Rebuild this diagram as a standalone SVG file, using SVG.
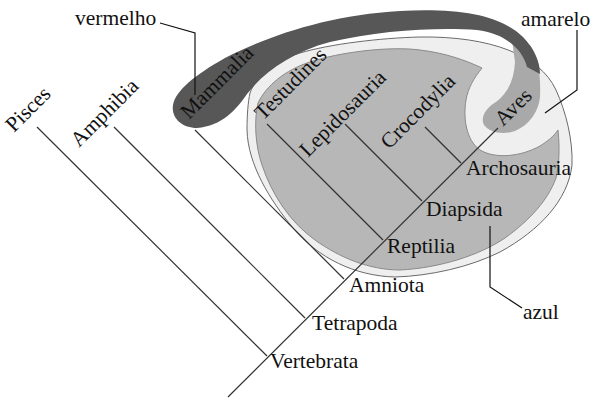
<svg xmlns="http://www.w3.org/2000/svg" width="593" height="398" viewBox="0 0 593 398">
<style>
text{font-family:"Liberation Serif","Times New Roman",serif;font-size:21.5px;fill:#111}
.br{stroke:#333;stroke-width:1.2;fill:none}
.ld{stroke:#111;stroke-width:1.2;fill:none}
</style>
<rect width="593" height="398" fill="#fff"/>
<g id="regions">
<path id="azul-region" d="M250,93 C256,76 272,62 300,53 C330,44 380,38 420,37 C490,36 540,55 556,90 C566,112 573,140 572,165 C568,200 540,230 500,252 C470,267 430,276 395,277 C355,276 318,258 293,228 C270,200 248,165 247,130 C247,115 248,102 250,93 Z" fill="#efefef" stroke="#6a6a6a" stroke-width="1"/>
<path id="reptile-region" d="M258,103 C266,86 285,70 310,62 C340,52 390,46 420,50 C445,53 465,60 482,68 C474,78 468,88 466,100 C463,118 466,140 480,150 C495,159 520,157 540,146 C548,141 554,136 558,130 C560,150 559,165 556,178 C548,200 530,220 505,238 C480,255 440,268 400,270 C370,270 340,258 315,240 C290,222 272,195 262,165 C255,145 254,120 258,103 Z" fill="#b7b7b7" stroke="#8a8a8a" stroke-width="1"/>
<path id="aves-region" d="M512,40 L530,45 C538,55 541,75 540,97 C539,110 530,125 515,131 C503,135 490,133 484,125 C480,117 486,108 496,102 C508,93 514,80 515,62 Z" fill="#a9a9a9"/>
<path id="vermelho-band" d="M197,128 C182,128 171,118 173,105 C176,90 195,75 225,58 C270,35 330,15 400,11 C460,8 500,15 523,37 C535,50 540,62 540,74 L527,67 C523,50 505,33 477,30 C440,27 380,30 330,42 C292,52 264,72 247,94 C236,110 222,126 197,128 Z" fill="#575757"/>
</g>
<g id="connectors">
<line class="br" x1="228" y1="397" x2="498" y2="128"/>
<line class="br" x1="267" y1="356" x2="37" y2="127"/>
<line class="br" x1="305" y1="318" x2="114" y2="127"/>
<line class="br" x1="344" y1="279" x2="195" y2="130"/>
<line class="br" x1="383" y1="240" x2="267" y2="124"/>
<line class="br" x1="422" y1="201" x2="345" y2="124"/>
<line class="br" x1="461" y1="163" x2="425" y2="127"/>
<path class="ld" d="M160,23 L195,33 L195,95"/>
<path class="ld" d="M577,30 L577,90 L545,113"/>
<path class="ld" d="M490,226 L490,287 L522,308"/>
</g>
<g id="node-pisces"><text transform="translate(14,133) rotate(-45)">Pisces</text></g>
<g id="node-amphibia"><text transform="translate(79,148) rotate(-45)">Amphibia</text></g>
<g id="node-mammalia"><text transform="translate(189,120) rotate(-45)">Mammalia</text></g>
<g id="node-testudines"><text transform="translate(263,121) rotate(-45)">Testudines</text></g>
<g id="node-lepidosauria"><text transform="translate(308,158) rotate(-45)">Lepidosauria</text></g>
<g id="node-crocodylia"><text transform="translate(389,150) rotate(-45)">Crocodylia</text></g>
<g id="node-aves"><text transform="translate(503,127) rotate(-45)">Aves</text></g>
<g id="node-archosauria"><text x="466" y="175">Archosauria</text></g>
<g id="node-diapsida"><text x="426" y="216">Diapsida</text></g>
<g id="node-reptilia"><text x="387" y="253">Reptilia</text></g>
<g id="node-amniota"><text x="349" y="292">Amniota</text></g>
<g id="node-tetrapoda"><text x="312" y="330">Tetrapoda</text></g>
<g id="node-vertebrata"><text x="270" y="368">Vertebrata</text></g>
<g id="label-vermelho"><text x="75" y="25">vermelho</text></g>
<g id="label-amarelo"><text x="521" y="26">amarelo</text></g>
<g id="label-azul"><text x="523" y="319">azul</text></g>
</svg>
